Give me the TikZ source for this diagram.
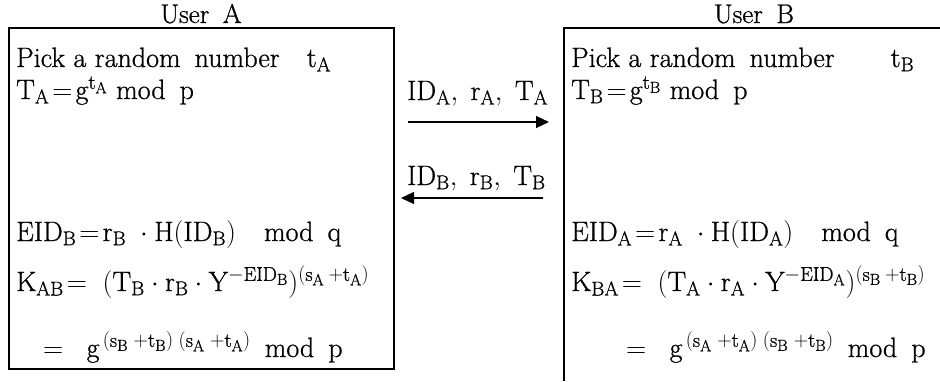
\documentclass[tikz,border=0pt]{standalone}
\usepackage{fix-cm}
\usepackage{fontspec}
\setmainfont{Latin Modern Roman}[FakeBold=0.8]
\DeclareMathSizes{28}{28}{20}{16}
\usetikzlibrary{arrows.meta}
\tikzset{
  txt/.style={anchor=base west, inner sep=0pt, font=\fontsize{28}{32}\selectfont},
  ttl/.style={anchor=base, inner sep=0pt, font=\fontsize{27}{31}\selectfont},
  boxline/.style={line width=1.2pt},
  msg/.style={line width=1.1pt, -{Triangle[length=13pt,width=12pt]}}
}
\begin{document}
\begin{tikzpicture}[x=1pt,y=-1pt]
\useasboundingbox (0,0) rectangle (940,381);
% titles
\node[ttl] (ua) at (201,23) {User\enspace A};
\node[ttl] (ub) at (754,23) {User\enspace B};
% boxes
\draw[boxline] (9,28) rectangle (394,369);
\draw[boxline] (940,28) -- (564,28) -- (564,381);
% left box text
\node[txt] (a1) at (16,67) {Pick a random\enspace number\enspace\, $\mathrm{t_A}$};
\node[txt] (a2) at (16,99) {$\mathrm{T_A\!=\!g^{t_A}}$ mod\enspace p};
\node[txt] (a3) at (16,241) {$\mathrm{EID_B\!=\!r_B\;\cdot H(ID_B)}$\quad mod\enspace q};
\node[txt] (a4) at (16,291) {$\mathrm{K_{AB}\!=\;(T_B\cdot r_B\cdot Y^{-EID_B})^{(s_A\:+t_A)}}$};
\node[txt] (a5) at (43,357) {$\mathrm{=\;\;g^{\,(s_B\;+t_B)\;(s_A\;+t_A)}}$\enspace mod\enspace p};
% right box text
\node[txt] (b1) at (571,67) {Pick a random\enspace number\qquad $\mathrm{t_B}$};
\node[txt] (b2) at (571,99) {$\mathrm{T_B\!=\!g^{t_B}}$ mod\enspace p};
\node[txt] (b3) at (571,241) {$\mathrm{EID_A\!=\!r_A\;\cdot H(ID_A)}$\quad mod\enspace q};
\node[txt] (b4) at (571,291) {$\mathrm{K_{BA}\!=\;(T_A\cdot r_A\cdot Y^{-EID_A})^{(s_B\:+t_B)}}$};
\node[txt] (b5) at (626,357) {$\mathrm{=\;\;g^{\,(s_A\;+t_A)\;(s_B\;+t_B)}}$\enspace mod\enspace p};
% messages
\node[txt] (m1) at (407,100) {$\mathrm{ID_A,\;r_A,\;T_A}$};
\node[txt] (m2) at (407,185) {$\mathrm{ID_B,\;r_B,\;T_B}$};
\coordinate (m1s) at (408,122);
\coordinate (m1e) at (549,122);
\coordinate (m2s) at (543,198);
\coordinate (m2e) at (401,198);
\draw[msg] (m1s) -- (m1e);
\draw[msg] (m2s) -- (m2e);
\end{tikzpicture}
\end{document}
